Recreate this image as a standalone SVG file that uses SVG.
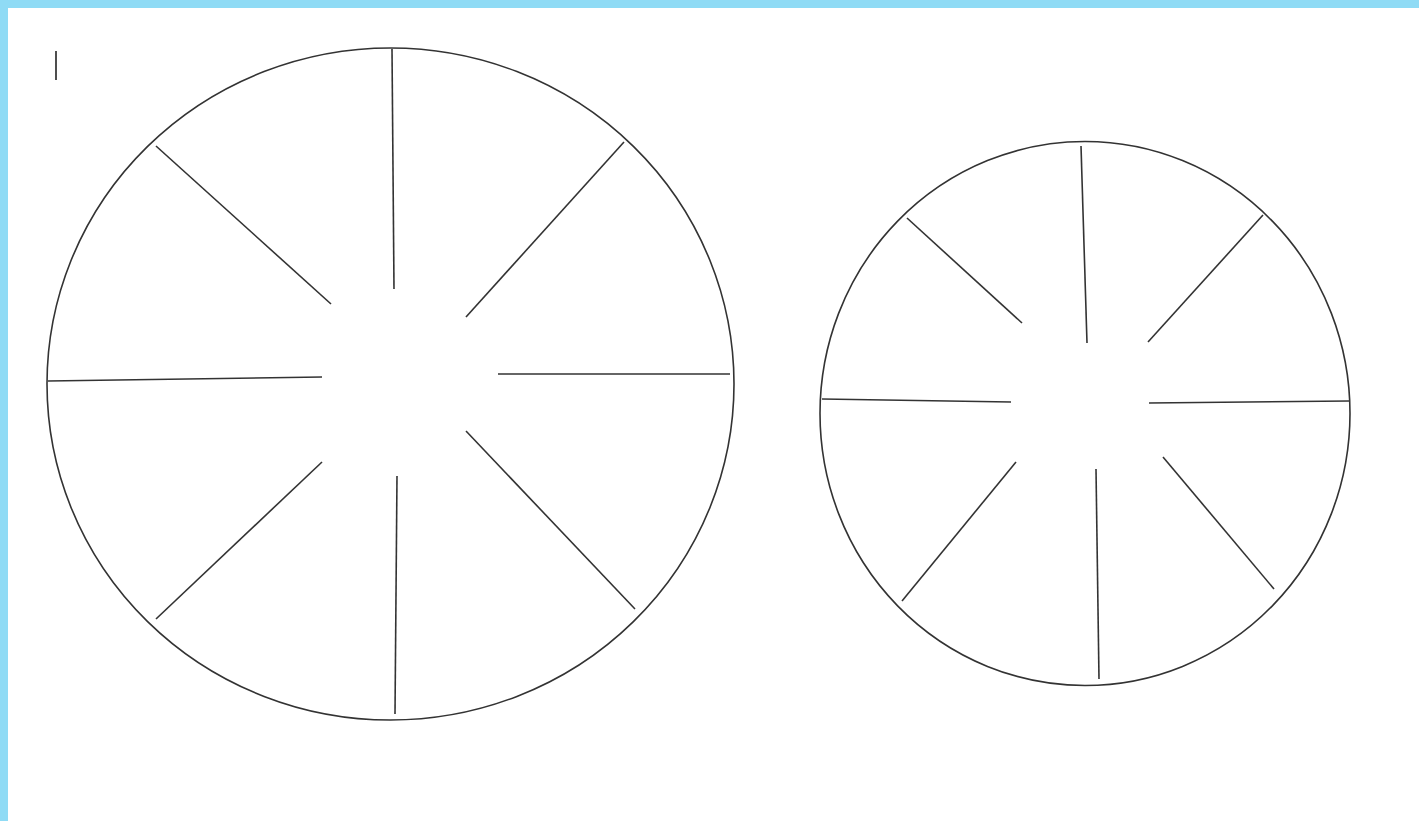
<svg xmlns="http://www.w3.org/2000/svg" width="1419" height="821" viewBox="0 0 1419 821">
<style>
.wheel{fill:none;stroke:#333;stroke-width:1.6}
.spoke{stroke:#333;stroke-width:1.6;stroke-linecap:butt}
</style>
<rect x="0" y="0" width="1419" height="821" fill="#ffffff"/>
<rect x="0" y="0" width="1419" height="8" fill="#8fdbf5"/>
<rect x="0" y="0" width="8" height="821" fill="#8fdbf5"/>
<line x1="56" y1="51" x2="56" y2="80" stroke="#222" stroke-width="1.6"/>
<g id="wheel-large">
<ellipse class="wheel" cx="390.5" cy="384" rx="343.5" ry="336"/>
</g>
<g id="wheel-small">
<ellipse class="wheel" cx="1085" cy="413.5" rx="265" ry="272"/>
</g>
<g id="connectors">
<line class="spoke" x1="392" y1="49" x2="394" y2="289"/>
<line class="spoke" x1="624" y1="142" x2="466" y2="317"/>
<line class="spoke" x1="498" y1="374" x2="730" y2="374"/>
<line class="spoke" x1="466" y1="431" x2="635" y2="609"/>
<line class="spoke" x1="397" y1="476" x2="395" y2="714"/>
<line class="spoke" x1="322" y1="462" x2="156" y2="619"/>
<line class="spoke" x1="48" y1="381" x2="322" y2="377"/>
<line class="spoke" x1="156" y1="146" x2="331" y2="304"/>
<line class="spoke" x1="1081" y1="146" x2="1087" y2="343"/>
<line class="spoke" x1="1263" y1="215" x2="1148" y2="342"/>
<line class="spoke" x1="1149" y1="403" x2="1349" y2="401"/>
<line class="spoke" x1="1163" y1="457" x2="1274" y2="589"/>
<line class="spoke" x1="1096" y1="469" x2="1099" y2="679"/>
<line class="spoke" x1="1016" y1="462" x2="902" y2="601"/>
<line class="spoke" x1="822" y1="399" x2="1011" y2="402"/>
<line class="spoke" x1="907" y1="218" x2="1022" y2="323"/>
</g>
</svg>
